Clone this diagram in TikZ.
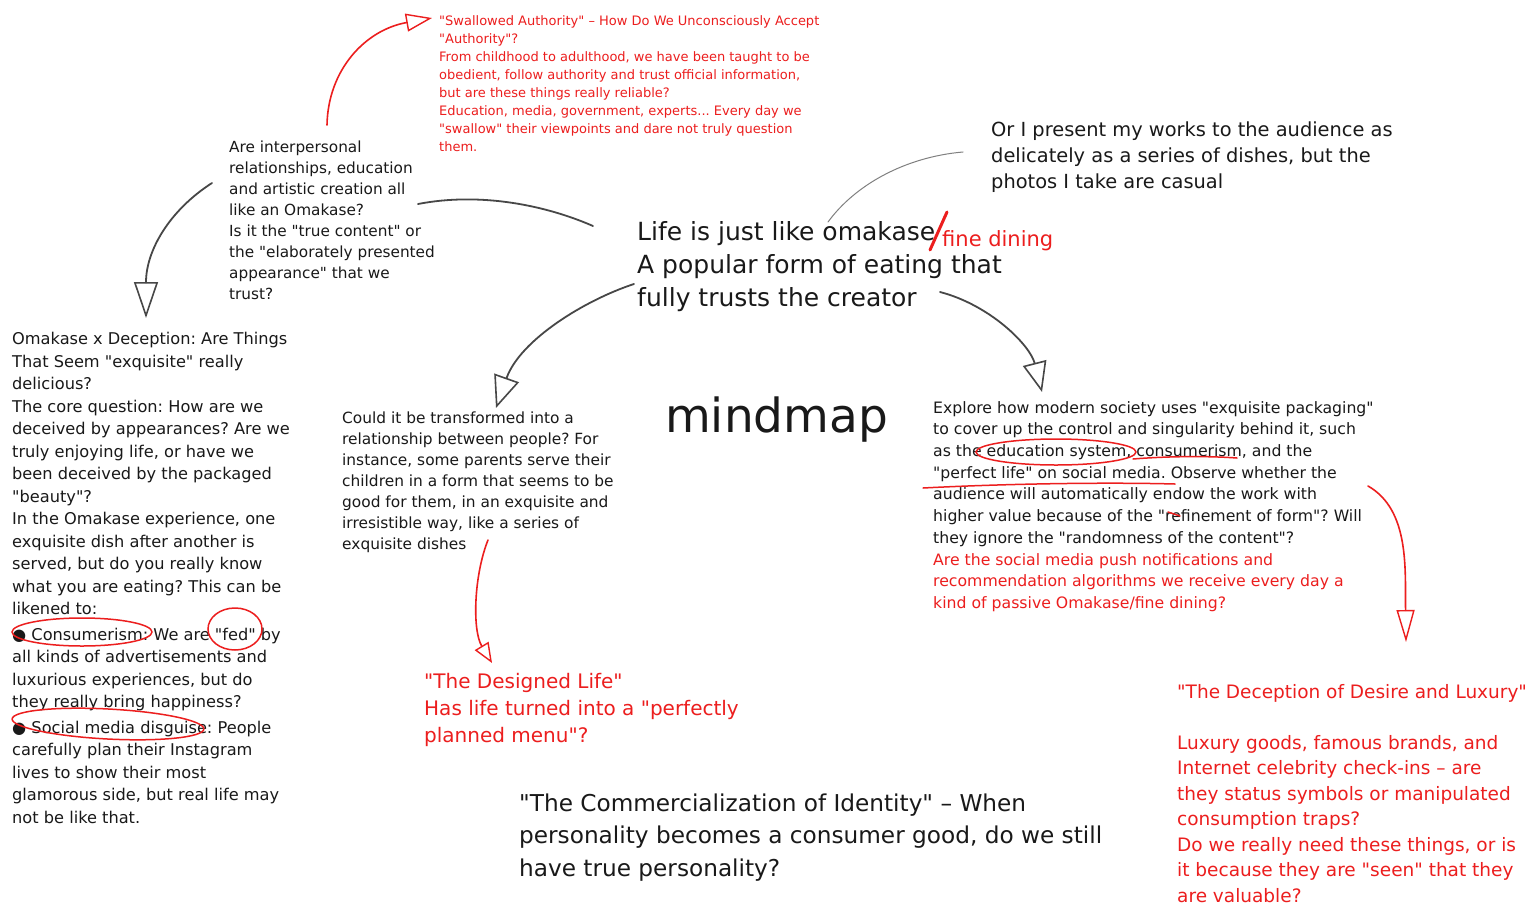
\documentclass[tikz,border=0pt]{standalone}
\usepackage{fontspec}
\setmainfont{DejaVu Sans}
\newfontfamily\handfont{DejaVu Sans}
\newcommand\fsz[2]{\handfont\fontsize{#1}{#2}\selectfont\frenchspacing}
\usetikzlibrary{arrows.meta}
\definecolor{ink}{RGB}{25,25,25}
\definecolor{redink}{RGB}{236,30,30}
\tikzset{
  txt/.style={anchor=base west, inner sep=0pt, align=left, text=ink},
  rtxt/.style={txt, text=redink},
  pencil/.style={draw=ink!80, line width=1.8pt, line cap=round},
  rpencil/.style={draw=redink, line width=1.6pt, line cap=round},
  redmark/.style={draw=redink, line width=1.5pt, line cap=round},
}
\begin{document}
\begin{tikzpicture}[x=1pt,y=-1pt]
\fill[white] (0,0) rectangle (1537,908);
\useasboundingbox (0,0) rectangle (1537,908);

% ---------- texts (positioned at the baseline of their last line) ----------
\node[rtxt, font=\fsz{13}{18}] (auth) at (439,151.5)
{"Swallowed Authority" – How Do We Unconsciously Accept\\
"Authority"?\\
From childhood to adulthood, we have been taught to be\\
obedient, follow authority and trust official information,\\
but are these things really reliable?\\
Education, media, government, experts... Every day we\\
"swallow" their viewpoints and dare not truly question\\
them.};

\node[txt, font=\fsz{15.3}{21}] (rel) at (229,299)
{Are interpersonal\\
relationships, education\\
and artistic creation all\\
like an Omakase?\\
Is it the "true content" or\\
the "elaborately presented\\
appearance" that we\\
trust?};

\node[txt, font=\fsz{16.2}{22.5}] (dec) at (12,823)
{Omakase x Deception: Are Things\\
That Seem "exquisite" really\\
delicious?\\
The core question: How are we\\
deceived by appearances? Are we\\
truly enjoying life, or have we\\
been deceived by the packaged\\
"beauty"?\\
In the Omakase experience, one\\
exquisite dish after another is\\
served, but do you really know\\
what you are eating? This can be\\
likened to:\\[3pt]
● Consumerism: We are "fed" by\\
all kinds of advertisements and\\
luxurious experiences, but do\\
they really bring happiness?\\[3pt]
● Social media disguise: People\\
carefully plan their Instagram\\
lives to show their most\\
glamorous side, but real life may\\
not be like that.};

\node[txt, font=\fsz{25}{33}] (life) at (637,306)
{Life is just like omakase\\
A popular form of eating that\\
fully trusts the creator};
\node[rtxt, font=\fsz{21}{24}] (fine) at (942,246) {fine dining};

\node[txt, font=\fsz{19.4}{26}] (works) at (991,188)
{Or I present my works to the audience as\\
delicately as a series of dishes, but the\\
photos I take are casual};

\node[txt, font=\fsz{15.4}{21.1}] (par) at (342,549.6)
{Could it be transformed into a\\
relationship between people? For\\
instance, some parents serve their\\
children in a form that seems to be\\
good for them, in an exquisite and\\
irresistible way, like a series of\\
exquisite dishes};

\node[txt, font=\fsz{47}{50}] (mind) at (665,432) {mindmap};

\node[txt, font=\fsz{15.7}{21.7}] (expl) at (933,543.2)
{Explore how modern society uses "exquisite packaging"\\
to cover up the control and singularity behind it, such\\
as the education system, consumerism, and the\\
"perfect life" on social media. Observe whether the\\
audience will automatically endow the work with\\
higher value because of the "refinement of form"? Will\\
they ignore the "randomness of the content"?};
\node[rtxt, font=\fsz{15.7}{21.7}] (push) at (933,608.4)
{Are the social media push notifications and\\
recommendation algorithms we receive every day a\\
kind of passive Omakase/fine dining?};

\node[rtxt, font=\fsz{20}{27}] (designed) at (424,742)
{"The Designed Life"\\
Has life turned into a "perfectly\\
planned menu"?};

\node[txt, font=\fsz{23.2}{32.5}] (ident) at (519,876)
{"The Commercialization of Identity" – When\\
personality becomes a consumer good, do we still\\
have true personality?};

\node[rtxt, font=\fsz{18.5}{25.5}] (lux) at (1177,902)
{"The Deception of Desire and Luxury"\\[25.5pt]
Luxury goods, famous brands, and\\
Internet celebrity check-ins – are\\
they status symbols or manipulated\\
consumption traps?\\
Do we really need these things, or is\\
it because they are "seen" that they\\
are valuable?};

% ---------- connector end points ----------
\coordinate (a1) at (327,125);  \coordinate (a2) at (432,18);
\coordinate (b1) at (212,183);  \coordinate (b2) at (146,318);
\coordinate (c1) at (418,204);  \coordinate (c2) at (593,226);
\coordinate (d1) at (828,222);  \coordinate (d2) at (963,152);
\coordinate (e1) at (634,284);  \coordinate (e2) at (496,408);
\coordinate (f1) at (940,292);  \coordinate (f2) at (1042,392);
\coordinate (g1) at (488,540);  \coordinate (g2) at (492,663);
\coordinate (h1) at (1368,486); \coordinate (h2) at (1406,642);

% ---------- connectors ----------
\draw[rpencil, -{Triangle[open,length=26pt,width=18pt,line width=1.4pt]}]
  (a1) .. controls (328,70) and (365,30) .. (a2);
\draw[pencil, -{Triangle[open,length=36pt,width=24pt,line width=1.6pt]}]
  (b1) .. controls (170,210) and (146,250) .. (b2);
\draw[pencil] (c1) .. controls (480,192) and (545,205) .. (c2);
\draw[draw=ink!55, line width=1pt, line cap=round] (d1) .. controls (855,185) and (905,157) .. (d2);
\draw[pencil, -{Triangle[open,length=32pt,width=26pt,line width=1.6pt]}]
  (e1) .. controls (585,300) and (520,340) .. (e2);
\draw[pencil, -{Triangle[open,length=30pt,width=24pt,line width=1.6pt]}]
  (f1) .. controls (990,305) and (1030,345) .. (f2);
\draw[rpencil, -{Triangle[open,length=20pt,width=16pt,line width=1.4pt]}]
  (g1) .. controls (474,575) and (472,630) .. (g2);
\draw[rpencil, -{Triangle[open,length=32pt,width=18pt,line width=1.4pt]}]
  (h1) .. controls (1410,510) and (1405,570) .. (h2);

% ---------- red annotation marks ----------
\draw[redink, line width=3pt, line cap=round] (930,250) -- (947,212);
\draw[redmark] (82,632) ellipse [x radius=70, y radius=14];
\draw[redmark] (235,629) ellipse [x radius=27, y radius=21];
\draw[redmark, rotate around={-3:(108,724)}] (108,724) ellipse [x radius=96, y radius=15];
\draw[redmark] (1056,452) ellipse [x radius=80, y radius=13];
\draw[redmark] (1133,459) .. controls (1170,456) and (1210,456) .. (1237,458);
\draw[redmark] (923,488) .. controls (1000,484) and (1100,482) .. (1175,484);
\draw[redmark] (1168,512) -- (1180,516);
\end{tikzpicture}
\end{document}
